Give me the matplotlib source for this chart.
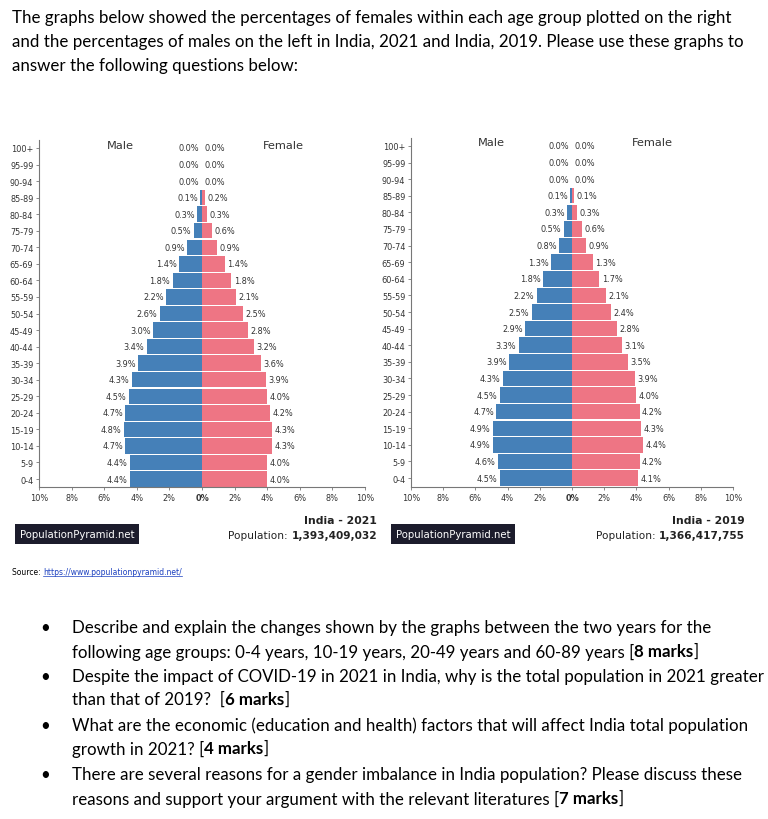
import matplotlib
matplotlib.use("Agg")
from matplotlib import pyplot as plt
import numpy as np

# age groups, top row first
ages = ['100+', '95-99', '90-94', '85-89', '80-84', '75-79', '70-74', '65-69', '60-64', '55-59',
        '50-54', '45-49', '40-44', '35-39', '30-34', '25-29', '20-24', '15-19', '10-14', '5-9', '0-4']

male_2021 = [0.0, 0.0, 0.02, 0.1, 0.3, 0.5, 0.9, 1.4, 1.8, 2.2, 2.6, 3.0, 3.4, 3.9, 4.3, 4.5, 4.7, 4.8, 4.7, 4.4, 4.4]
female_2021 = [0.0, 0.0, 0.02, 0.2, 0.3, 0.6, 0.9, 1.4, 1.8, 2.1, 2.5, 2.8, 3.2, 3.6, 3.9, 4.0, 4.2, 4.3, 4.3, 4.0, 4.0]
male_2019 = [0.0, 0.0, 0.02, 0.1, 0.3, 0.5, 0.8, 1.3, 1.8, 2.2, 2.5, 2.9, 3.3, 3.9, 4.3, 4.5, 4.7, 4.9, 4.9, 4.6, 4.5]
female_2019 = [0.0, 0.0, 0.02, 0.1, 0.3, 0.6, 0.9, 1.3, 1.7, 2.1, 2.4, 2.8, 3.1, 3.5, 3.9, 4.0, 4.2, 4.3, 4.4, 4.2, 4.1]

xticks = [-10, -8, -6, -4, -2, 0, 2, 4, 6, 8, 10]
xticklabels = ['10%', '8%', '6%', '4%', '2%', '0%', '2%', '4%', '6%', '8%', '10%']

header = ["The graphs below showed the percentages of females within each age group plotted on the right",
          "and the percentages of males on the left in India, 2021 and India, 2019. Please use these graphs to",
          "answer the following questions below:"]

# each bullet: list of lines, each line a list of (text, bold)
bullets = [
    [[("Describe and explain the changes shown by the graphs between the two years for the", False)],
     [("following age groups: 0-4 years, 10-19 years, 20-49 years and 60-89 years [", False), ("8 marks", True), ("]", False)]],
    [[("Despite the impact of COVID-19 in 2021 in India, why is the total population in 2021 greater", False)],
     [("than that of 2019?  [", False), ("6 marks", True), ("]", False)]],
    [[("What are the economic (education and health) factors that will affect India total population", False)],
     [("growth in 2021? [", False), ("4 marks", True), ("]", False)]],
    [[("There are several reasons for a gender imbalance in India population? Please discuss these", False)],
     [("reasons and support your argument with the relevant literatures [", False), ("7 marks", True), ("]", False)]],
]

W, H = 768, 820
BLUE = '#4580b8'
PINK = '#ee7584'
DOC_FONT = 'Lato'
DOC_SIZE = 12.2
SMALL = 5.9

fig = plt.figure(figsize=(W / 100, H / 100), dpi=100)
fig.patch.set_facecolor('white')


def px_axes(x0, y_top, x1, y_bot):
    return fig.add_axes([x0 / W, 1 - y_bot / H, (x1 - x0) / W, (y_bot - y_top) / H])


def pyramid(ax, male, female, ylim, title_y):
    y = np.arange(len(ages))[::-1]
    ax.barh(y, -np.array(male), height=0.93, color=BLUE, edgecolor='none')
    ax.barh(y, female, height=0.93, color=PINK, edgecolor='none')
    for yi, m, f in zip(y, male, female):
        ax.text(-m - 0.15, yi, '%.1f%%' % m, ha='right', va='center', fontsize=SMALL, color='#333333')
        ax.text(f + 0.15, yi, '%.1f%%' % f, ha='left', va='center', fontsize=SMALL, color='#333333')
    ax.set_xlim(-10, 10)
    ax.set_ylim(*ylim)
    ax.set_yticks(y)
    ax.set_yticklabels(ages, fontsize=SMALL, color='#333333')
    ax.set_xticks(xticks)
    ax.set_xticklabels(xticklabels, fontsize=SMALL, color='#333333')
    for lbl in ax.get_xticklabels():
        if lbl.get_text() == '0%':
            lbl.set_fontweight('bold')
    ax.tick_params(length=2, width=0.6, color='#777777', pad=2)
    for s in ['top', 'right']:
        ax.spines[s].set_visible(False)
    for s in ['left', 'bottom']:
        ax.spines[s].set_color('#777777')
        ax.spines[s].set_linewidth(0.8)
    ax.text(-5, title_y, 'Male', ha='center', va='center', fontsize=8.2, color='#333333')
    ax.text(5, title_y, 'Female', ha='center', va='center', fontsize=8.2, color='#333333')
    ax.set_facecolor('white')


ax1 = px_axes(39, 141, 365, 488)
pyramid(ax1, male_2021, female_2021, (-0.48, 20.48), 20.2)
ax2 = px_axes(411, 139, 733, 488)
pyramid(ax2, male_2019, female_2019, (-0.54, 20.48), 20.25)

# header text
for i, line in enumerate(header):
    fig.text(12 / W, 1 - (18 + 24 * i) / H, line, ha='left', va='center',
             family=DOC_FONT, fontsize=DOC_SIZE, color='black')

# footer of each pyramid
for bx, lx, title, pop in [(16, 377, 'India - 2021', '1,393,409,032'),
                           (392, 745, 'India - 2019', '1,366,417,755')]:
    fig.text((bx + 4) / W, 1 - 535 / H, 'PopulationPyramid.net', ha='left', va='center',
             fontsize=7.3, color='white',
             bbox=dict(boxstyle='square,pad=0.45', fc='#1c1c2c', ec='none'))
    fig.text(lx / W, 1 - 521 / H, title, ha='right', va='center', fontsize=7.8,
             fontweight='bold', color='#222222')
    fig.text(lx / W, 1 - 536 / H, pop, ha='right', va='center', fontsize=7.6,
             fontweight='bold', color='#222222')

renderer = fig.canvas.get_renderer()
# "Population: " prefix placed to the left of the bold number
for lx, pop in [(377, '1,393,409,032'), (745, '1,366,417,755')]:
    t = fig.text(lx / W, 1 - 536 / H, pop, ha='right', va='center', fontsize=7.6,
                 fontweight='bold', alpha=0)
    bb = t.get_window_extent(renderer)
    fig.text(bb.x0 / W, 1 - 536 / H, 'Population: ', ha='right', va='center', fontsize=7.6,
             color='#222222')

src = fig.text(12 / W, 1 - 573 / H, 'Source: ', ha='left', va='center', fontsize=5.5, color='black')
bb = src.get_window_extent(renderer)
url = fig.text(bb.x1 / W, 1 - 573 / H, 'https://www.populationpyramid.net/', ha='left', va='center',
               fontsize=5.5, color='#1a3fbf')
ub = url.get_window_extent(renderer)
fig.add_artist(plt.Line2D([ub.x0 / W, ub.x1 / W], [(ub.y0 + 0.5) / H] * 2, color='#1a3fbf', lw=0.5))

# bullet list
line_y = [628, 652, 677, 700, 726, 749, 775, 799]
k = 0
for item in bullets:
    fig.text(45 / W, 1 - line_y[k] / H, '\u2022', ha='center', va='center', family=DOC_FONT,
             fontsize=DOC_SIZE, color='black')
    for line in item:
        x = 72
        for txt, bold in line:
            t = fig.text(x / W, 1 - line_y[k] / H, txt, ha='left', va='center', family=DOC_FONT,
                         fontsize=DOC_SIZE, fontweight='bold' if bold else 'normal', color='black')
            x = t.get_window_extent(renderer).x1
        k += 1

fig.savefig('out.png', dpi=100)
